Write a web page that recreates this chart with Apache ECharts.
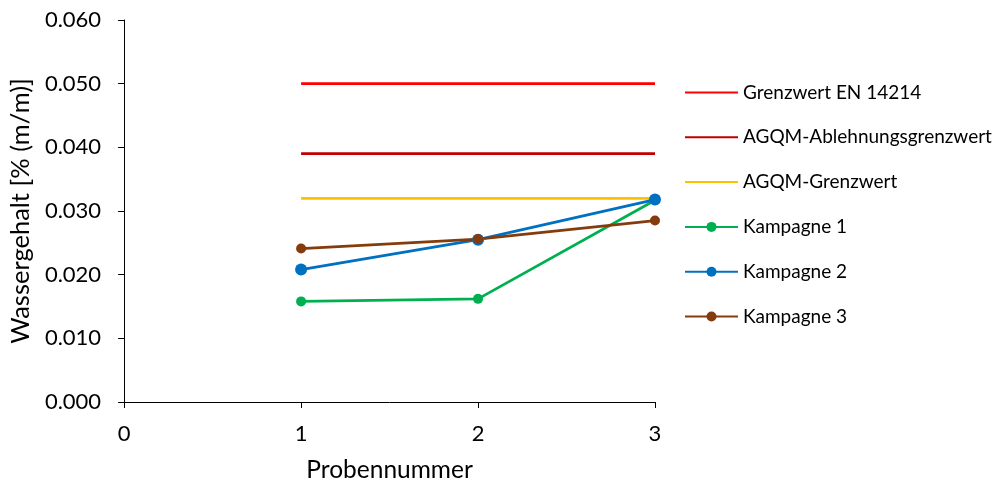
<!DOCTYPE html>
<html>
<head>
<meta charset="utf-8">
<script src="https://cdn.jsdelivr.net/npm/echarts@6/dist/echarts.min.js"></script>
<style>html,body{margin:0;padding:0;background:#fff}#c{width:1002px;height:488px}</style>
</head>
<body>
<div id="c"></div>
<script>
const probe = [1, 2, 3];
const grenzwertEN = [0.050, 0.050, 0.050];
const agqmAblehnung = [0.039, 0.039, 0.039];
const agqmGrenzwert = [0.032, 0.032, 0.032];
const kampagne1 = [0.0158, 0.0162, 0.0317];
const kampagne2 = [0.0208, 0.0255, 0.0318];
const kampagne3 = [0.0241, 0.0256, 0.0285];
const xTicks = [0, 1, 2, 3];
const yTicks = [0, 0.01, 0.02, 0.03, 0.04, 0.05, 0.06];
const legendNames = ['Grenzwert EN 14214', 'AGQM-Ablehnungsgrenzwert', 'AGQM-Grenzwert', 'Kampagne 1', 'Kampagne 2', 'Kampagne 3'];
const limitNames = legendNames.slice(0, 3);

const font = 'Lato';
const pair = arr => probe.map((p, i) => [p, arr[i]]);
function limit(name, data, color) {
  return { name, type: 'line', data: pair(data), symbol: 'none', lineStyle: { color, width: 2.75 }, itemStyle: { color }, animation: false };
}
function camp(name, data, color, size) {
  return { name, type: 'line', data: pair(data), symbol: 'circle', symbolSize: size, lineStyle: { color, width: 2.75 }, itemStyle: { color }, animation: false };
}
const chart = echarts.init(document.getElementById('c'), null, { renderer: 'canvas' });
chart.setOption({
  animation: false,
  grid: { left: 123, right: 347, top: 20, bottom: 84 },
  xAxis: {
    type: 'value', min: xTicks[0], max: xTicks[xTicks.length - 1], interval: 1,
    name: 'Probennummer', nameLocation: 'middle', nameGap: 56,
    nameTextStyle: { fontFamily: font, fontSize: 24.5, color: '#000' },
    axisLine: { lineStyle: { color: '#000', width: 1 } },
    axisTick: { show: true, length: 6, inside: false, lineStyle: { color: '#000' } },
    axisLabel: { fontFamily: font, fontSize: 22, color: '#000', margin: 21 },
    splitLine: { show: false }
  },
  yAxis: {
    type: 'value', min: yTicks[0], max: yTicks[yTicks.length - 1], interval: 0.01,
    name: 'Wassergehalt [% (m/m)]', nameLocation: 'middle', nameGap: 84,
    nameTextStyle: { fontFamily: font, fontSize: 25.5, color: '#000' },
    axisLine: { show: true, lineStyle: { color: '#000', width: 1 } },
    axisTick: { show: true, length: 6, lineStyle: { color: '#000' } },
    axisLabel: { fontFamily: font, fontSize: 22, color: '#000', margin: 23, formatter: v => v.toFixed(3) },
    splitLine: { show: false }
  },
  legend: {
    orient: 'vertical', left: 679, top: 78, itemWidth: 53, itemHeight: 12.5, itemGap: 25.8,
    textStyle: { fontFamily: font, fontSize: 19, color: '#000' },
    data: legendNames.map(n => limitNames.includes(n) ? { name: n, itemStyle: { opacity: 0 } } : { name: n })
  },
  series: [
    limit(legendNames[0], grenzwertEN, '#FF0000'),
    limit(legendNames[1], agqmAblehnung, '#C00000'),
    limit(legendNames[2], agqmGrenzwert, '#FFC000'),
    camp(legendNames[3], kampagne1, '#00B050', 10),
    camp(legendNames[4], kampagne2, '#0070C0', 12),
    camp(legendNames[5], kampagne3, '#843C0C', 10)
  ]
});
</script>
</body>
</html>
